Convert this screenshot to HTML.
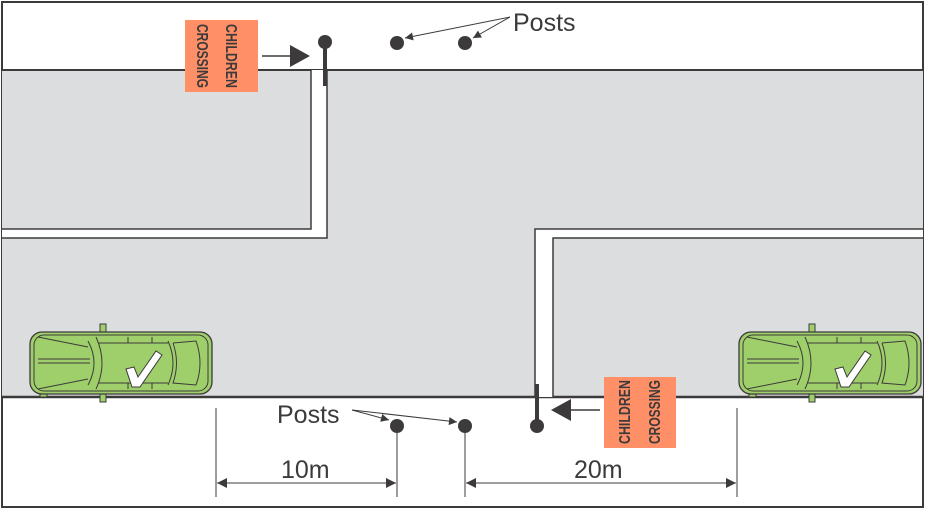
<!DOCTYPE html>
<html><head><meta charset="utf-8"><style>
html,body{margin:0;padding:0;background:#fff}
svg{display:block}
text{font-family:"Liberation Sans",Arial,sans-serif}
</style></head><body>
<svg width="925" height="509" viewBox="0 0 925 509" xmlns="http://www.w3.org/2000/svg">
<defs>
<g id="car">
  <rect x="12" y="60" width="7" height="8" fill="#9ecf6a" stroke="#3d3a3b" stroke-width="1"/>
  <rect x="72" y="-5" width="6" height="8" fill="#9ecf6a" stroke="#3d3a3b" stroke-width="1"/>
  <rect x="72" y="65" width="6" height="8" fill="#9ecf6a" stroke="#3d3a3b" stroke-width="1"/>
  <rect x="2" y="3" width="182" height="62" rx="12" fill="#9ecf6a" stroke="#3d3a3b" stroke-width="1.3"/>
  <rect x="6" y="6" width="174" height="56" rx="10" fill="none" stroke="#3d3a3b" stroke-width="1"/>
  <g fill="none" stroke="#3d3a3b" stroke-width="1">
    <path d="M10 8 L60 18 M10 60 L60 50 M10 34 L62 34 M10 30 L62 30 M60 12 Q72 34 60 56 M68 8 Q80 34 68 60"/>
    <path d="M70 14 L140 14 M70 54 L140 54 M100 8 L100 14 M100 54 L100 60 M124 8 L124 14 M124 54 L124 60"/>
    <path d="M140 12 Q150 34 140 56 M145 14 L168 12 Q176 34 168 56 L145 54 Q152 34 145 14"/>
    <path d="M6 20 L6 48 M180 20 L180 48"/>
  </g>
  <path d="M98 40 L106 38 L110 48 L128 22 L134 26 L112 58 L104 58 Z" fill="#fff" stroke="#3d3a3b" stroke-width="1"/>
</g>
<marker id="ar" viewBox="0 0 10 10" refX="10" refY="5" markerWidth="12" markerHeight="8" orient="auto" markerUnits="userSpaceOnUse"><path d="M0 0 L10 5 L0 10 Z" fill="#3d3a3b"/></marker>
<marker id="ad" viewBox="0 0 10 10" refX="10" refY="5" markerWidth="18" markerHeight="10" orient="auto-start-reverse" markerUnits="userSpaceOnUse"><path d="M0 0 L10 5 L0 10 Z" fill="#3d3a3b"/></marker>
</defs>
<rect x="2" y="2" width="921" height="505" fill="#fff" stroke="#3d3a3b" stroke-width="2"/>
<rect x="2" y="70" width="921" height="327" fill="#dcdddf"/>
<line x1="2" y1="70" x2="923" y2="70" stroke="#3d3a3b" stroke-width="2"/>
<line x1="2" y1="397" x2="923" y2="397" stroke="#3d3a3b" stroke-width="2.5"/>
<path d="M2 229 L311 229 L311 70 L327 70 L327 238 L2 238 Z" fill="#fff"/>
<path d="M2 229 L311 229 L311 70 M2 238 L327 238 L327 70" fill="none" stroke="#3d3a3b" stroke-width="1.5"/>
<path d="M535 397 L535 229 L923 229 L923 238 L553 238 L553 397 Z" fill="#fff"/>
<path d="M535 397 L535 229 L923 229 M553 397 L553 238 L923 238" fill="none" stroke="#3d3a3b" stroke-width="1.5"/>
<use href="#car" x="28" y="329"/>
<use href="#car" x="737" y="329"/>
<!-- top sign -->
<rect x="185" y="20" width="73" height="72" fill="#ff8f66"/>
<text transform="translate(226,24) rotate(90)" font-size="16" font-weight="bold" fill="#3d3a3b" textLength="64" lengthAdjust="spacingAndGlyphs">CHILDREN</text>
<text transform="translate(197,24) rotate(90)" font-size="16" font-weight="bold" fill="#3d3a3b" textLength="64" lengthAdjust="spacingAndGlyphs">CROSSING</text>
<line x1="262" y1="56" x2="292" y2="56" stroke="#3d3a3b" stroke-width="1.5"/>
<path d="M290 45 L310 56 L290 67 Z" fill="#3d3a3b"/>
<line x1="325" y1="42" x2="325" y2="86" stroke="#3d3a3b" stroke-width="4"/>
<circle cx="325" cy="42" r="7" fill="#3d3a3b"/>
<circle cx="397" cy="43" r="7" fill="#3d3a3b"/>
<circle cx="465" cy="43" r="7" fill="#3d3a3b"/>
<line x1="510" y1="17" x2="405" y2="38" stroke="#3d3a3b" stroke-width="1" marker-end="url(#ar)"/>
<line x1="510" y1="17" x2="473" y2="38" stroke="#3d3a3b" stroke-width="1" marker-end="url(#ar)"/>
<text x="513" y="31" font-size="25" fill="#3d3a3b">Posts</text>
<!-- bottom sign -->
<rect x="604" y="377" width="72" height="71" fill="#ff8f66"/>
<text transform="translate(630,444) rotate(-90)" font-size="16" font-weight="bold" fill="#3d3a3b" textLength="64" lengthAdjust="spacingAndGlyphs">CHILDREN</text>
<text transform="translate(660,444) rotate(-90)" font-size="16" font-weight="bold" fill="#3d3a3b" textLength="64" lengthAdjust="spacingAndGlyphs">CROSSING</text>
<line x1="570" y1="410" x2="600" y2="410" stroke="#3d3a3b" stroke-width="1.5"/>
<path d="M571 399 L551 410 L571 421 Z" fill="#3d3a3b"/>
<line x1="537" y1="384" x2="537" y2="426" stroke="#3d3a3b" stroke-width="4"/>
<circle cx="537" cy="426" r="7" fill="#3d3a3b"/>
<circle cx="397" cy="426" r="7" fill="#3d3a3b"/>
<circle cx="465" cy="426" r="7" fill="#3d3a3b"/>
<text x="277" y="423" font-size="25" fill="#3d3a3b">Posts</text>
<line x1="352" y1="410" x2="389" y2="420" stroke="#3d3a3b" stroke-width="1" marker-end="url(#ar)"/>
<line x1="352" y1="410" x2="457" y2="422" stroke="#3d3a3b" stroke-width="1" marker-end="url(#ar)"/>
<g stroke="#3d3a3b" stroke-width="1">
<line x1="216" y1="408" x2="216" y2="497"/>
<line x1="397" y1="433" x2="397" y2="497"/>
<line x1="465" y1="433" x2="465" y2="497"/>
<line x1="737" y1="408" x2="737" y2="497"/>
<line x1="217" y1="483" x2="396" y2="483" marker-start="url(#ad)" marker-end="url(#ad)"/>
<line x1="466" y1="483" x2="736" y2="483" marker-start="url(#ad)" marker-end="url(#ad)"/>
</g>
<text x="281" y="478" font-size="25" fill="#3d3a3b">10m</text>
<text x="574" y="478" font-size="25" fill="#3d3a3b">20m</text>
</svg>
</body></html>
